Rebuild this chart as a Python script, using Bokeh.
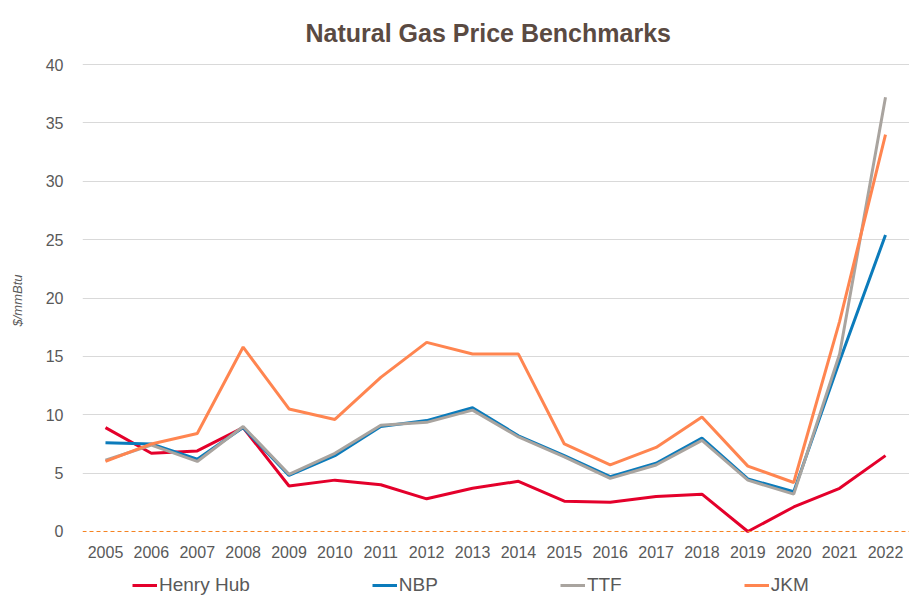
from bokeh.plotting import figure
from bokeh.layouts import column
from bokeh.models import FixedTicker, Span, Legend, LegendItem, Range1d
from bokeh.embed import file_html
from bokeh.resources import INLINE

years = list(range(2005, 2023))
henry_hub = [8.9, 6.7, 6.9, 8.9, 3.9, 4.4, 4.0, 2.8, 3.7, 4.3, 2.6, 2.5, 3.0, 3.2, 0.0, 2.1, 3.7, 6.5]
nbp = [7.6, 7.5, 6.2, 8.9, 4.8, 6.5, 9.0, 9.5, 10.6, 8.2, 6.5, 4.7, 5.85, 8.0, 4.5, 3.4, 14.6, 25.4]
ttf = [6.1, 7.4, 6.0, 9.0, 4.9, 6.7, 9.1, 9.35, 10.4, 8.1, 6.4, 4.55, 5.7, 7.8, 4.4, 3.2, 15.2, 37.2]
jkm = [6.0, 7.5, 8.4, 15.8, 10.5, 9.6, 13.2, 16.2, 15.2, 15.2, 7.5, 5.7, 7.2, 9.8, 5.6, 4.2, 18.0, 34.0]
y_ticks = [0, 5, 10, 15, 20, 25, 30, 35, 40]

series = [
    ("Henry Hub", henry_hub, "#e4002b"),
    ("NBP", nbp, "#0b7bbb"),
    ("TTF", ttf, "#a9a49f"),
    ("JKM", jkm, "#ff8550"),
]

FONT = "Liberation Sans"
TXT = "#595959"
W = 909
MAIN_H = 566
LEG_H = 599 - MAIN_H

p = figure(width=W, height=MAIN_H, output_backend="svg", toolbar_location=None,
           x_range=Range1d(2004.499, 2022.523), y_range=Range1d(-0.514, 40.09),
           min_border_left=82, min_border_right=0, min_border_bottom=29, min_border_top=63)
p.outline_line_color = None
p.background_fill_color = "white"

p.title.text = "Natural Gas Price Benchmarks"
p.title.align = "left"
p.title.offset = 223
p.title.text_font = FONT
p.title.text_font_size = "25px"
p.title.text_font_style = "bold"
p.title.text_color = "#5a4a42"
p.title.standoff = 33

for ax in (p.xaxis[0], p.yaxis[0]):
    ax.axis_line_color = None
    ax.major_tick_line_color = None
    ax.minor_tick_line_color = None
    ax.major_tick_in = 0
    ax.major_tick_out = 0
    ax.minor_tick_in = 0
    ax.minor_tick_out = 0
    ax.major_label_text_font = FONT
    ax.major_label_text_font_size = "16px"
    ax.major_label_text_color = TXT

p.xaxis.ticker = FixedTicker(ticks=years)
p.xaxis.major_label_standoff = 8
p.yaxis.ticker = FixedTicker(ticks=y_ticks)
p.yaxis.major_label_standoff = 19
p.yaxis.axis_label = "$/mmBtu"
p.yaxis.axis_label_text_font = FONT
p.yaxis.axis_label_text_font_size = "13px"
p.yaxis.axis_label_text_font_style = "italic"
p.yaxis.axis_label_text_color = TXT
p.yaxis.axis_label_standoff = 18

p.xgrid.grid_line_color = None
p.ygrid.ticker = FixedTicker(ticks=y_ticks[1:])
p.ygrid.grid_line_color = "#d9d9d9"
p.ygrid.grid_line_width = 1

p.add_layout(Span(location=0, dimension="width", line_color="#f58220",
                  line_dash="4 3", line_width=1))

for name, vals, color in series:
    p.line(years, vals, line_color=color, line_width=3)

# legend strip below the chart (its lines fall outside its own ranges)
q = figure(width=W, height=LEG_H, output_backend="svg", toolbar_location=None,
           x_range=Range1d(0, 1), y_range=Range1d(0, 1),
           x_axis_location=None, y_axis_location=None,
           min_border=0, min_border_left=0, min_border_right=0,
           min_border_top=0, min_border_bottom=0)
q.outline_line_color = None
q.grid.visible = False
items = []
for name, vals, color in series:
    r = q.line(years, vals, line_color=color, line_width=3)
    items.append(LegendItem(label=name, renderers=[r]))

legend = Legend(items=items, orientation="horizontal", location=(50, 3),
                margin=0, padding=0, spacing=122, glyph_width=25, glyph_height=20,
                label_height=20, label_standoff=2, label_text_font=FONT,
                label_text_font_size="19px", label_text_color=TXT,
                background_fill_alpha=0, border_line_color=None)
q.add_layout(legend, "center")

layout = column(p, q, spacing=0)
open("out.html", "w").write(file_html(layout, INLINE))
